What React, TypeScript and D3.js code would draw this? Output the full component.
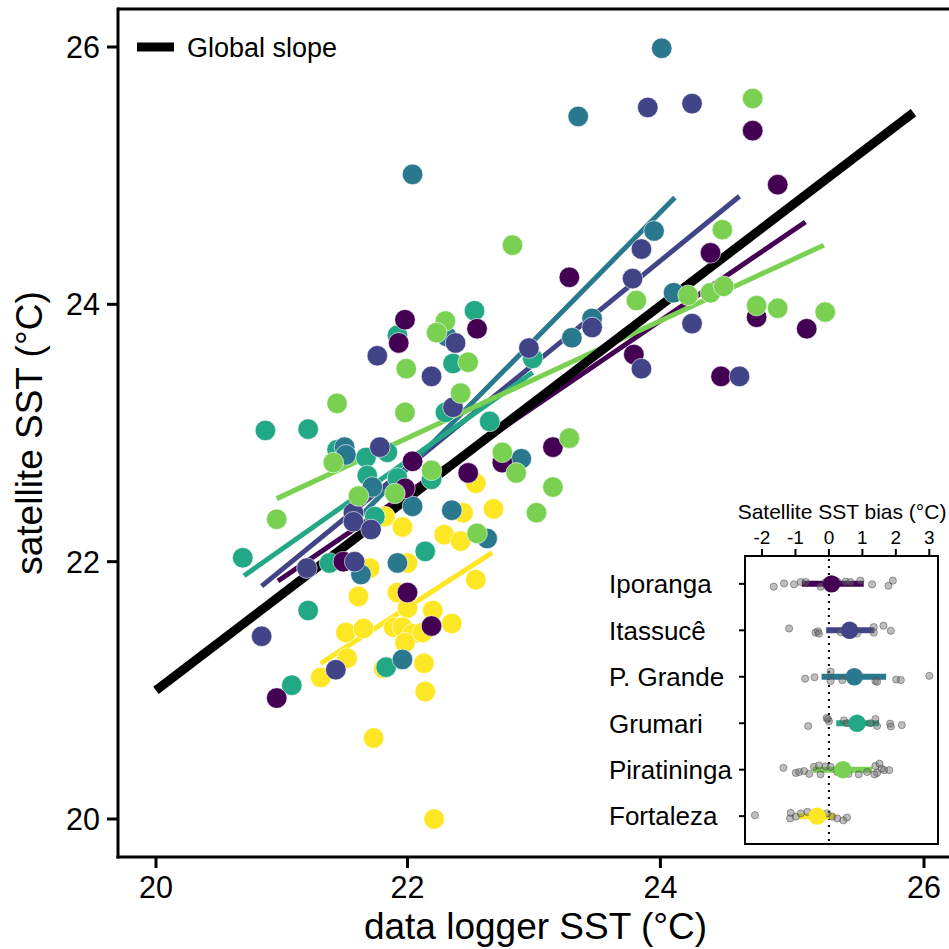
import React from 'react';
import * as d3 from 'd3';

const sites = ['Iporanga', 'Itassucê', 'P. Grande', 'Grumari', 'Piratininga', 'Fortaleza'];
const siteColors = ['#440154', '#414487', '#2A788E', '#22A884', '#7AD151', '#FDE725'];
const drawOrder = [5, 3, 2, 0, 1, 4];

const iporangaLogger = [24.70, 24.89, 23.28, 24.38, 24.73, 25.11, 23.79, 24.46, 22.55, 23.15, 22.75, 21.98, 21.93, 22.04, 21.98, 22.48, 21.49, 22.00, 22.19, 20.96];
const iporangaSatellite = [25.35, 24.93, 24.21, 24.40, 23.90, 23.81, 23.61, 23.44, 23.81, 22.89, 22.77, 23.88, 23.70, 22.78, 22.57, 22.69, 22.00, 21.76, 21.50, 20.94];
const itassuceLogger = [23.90, 24.24, 23.85, 23.78, 24.24, 23.46, 22.96, 23.85, 24.60, 22.38, 21.76, 22.19, 22.36, 21.78, 21.57, 21.57, 21.71, 21.20, 21.58, 20.84, 21.43];
const itassuceSatellite = [25.53, 25.56, 24.43, 24.20, 23.85, 23.82, 23.66, 23.50, 23.44, 23.70, 23.60, 23.44, 23.20, 22.89, 22.38, 22.31, 22.25, 21.95, 22.00, 21.42, 21.16];
const pGrandeLogger = [24.01, 23.35, 22.04, 23.95, 24.10, 23.46, 23.30, 22.90, 22.31, 21.50, 21.51, 21.72, 22.04, 22.35, 22.63, 21.63, 21.92, 21.96];
const pGrandeSatellite = [25.99, 25.46, 25.01, 24.57, 24.09, 23.89, 23.74, 22.80, 23.75, 22.89, 22.83, 22.58, 22.43, 22.40, 22.18, 21.90, 21.99, 21.24];
const grumariLogger = [22.53, 22.99, 22.65, 21.92, 22.36, 22.30, 20.87, 21.21, 21.44, 21.84, 21.67, 21.68, 21.92, 22.19, 21.74, 21.38, 20.69, 22.14, 21.21, 21.08, 21.83];
const grumariSatellite = [23.95, 23.58, 23.09, 23.76, 23.54, 23.16, 23.02, 23.03, 22.87, 22.85, 22.81, 22.67, 22.65, 22.64, 22.35, 21.99, 22.03, 22.08, 21.62, 21.04, 21.18];
const piratiningaLogger = [24.70, 22.83, 24.47, 23.81, 24.21, 24.38, 24.48, 24.73, 24.89, 25.25, 22.48, 23.28, 22.75, 22.86, 23.15, 22.30, 22.23, 21.99, 22.42, 21.44, 21.98, 21.41, 22.19, 21.61, 21.90, 20.96, 22.55, 23.02];
const piratiningaSatellite = [25.60, 24.46, 24.58, 24.03, 24.07, 24.09, 24.14, 23.99, 23.97, 23.94, 23.55, 22.96, 22.85, 22.69, 22.58, 23.87, 23.78, 23.50, 23.31, 23.23, 23.16, 22.77, 22.71, 22.51, 22.53, 22.33, 22.22, 22.38];
const fortalezaLogger = [22.54, 21.82, 21.96, 22.44, 22.68, 22.29, 22.42, 21.70, 22.00, 22.54, 21.61, 21.92, 22.00, 22.20, 21.51, 21.65, 21.89, 21.96, 22.04, 22.12, 22.35, 21.52, 21.31, 21.81, 22.13, 22.14, 21.73, 22.21, 21.98];
const fortalezaSatellite = [22.61, 22.35, 22.27, 22.38, 22.41, 22.21, 22.16, 21.95, 21.99, 21.86, 21.73, 21.76, 21.64, 21.62, 21.45, 21.48, 21.49, 21.49, 21.44, 21.45, 21.52, 21.25, 21.10, 21.17, 21.21, 20.99, 20.63, 20.00, 21.37];

const loggerBySite = [iporangaLogger, itassuceLogger, pGrandeLogger, grumariLogger, piratiningaLogger, fortalezaLogger];
const satelliteBySite = [iporangaSatellite, itassuceSatellite, pGrandeSatellite, grumariSatellite, piratiningaSatellite, fortalezaSatellite];

const fitStartX = [20.97, 20.84, 21.52, 20.70, 20.96, 21.31];
const fitEndX = [25.10, 24.60, 24.11, 22.99, 25.24, 22.67];
const fitStartY = [21.85, 21.81, 22.25, 21.89, 22.49, 21.21];
const fitEndY = [24.64, 24.84, 24.83, 23.47, 24.46, 22.07];

const globalX = [20.0, 25.92];
const globalY = [21.0, 25.49];

const xTicks = [20, 22, 24, 26];
const yTicks = [20, 22, 24, 26];

const biasMean = [0.08, 0.62, 0.76, 0.84, 0.42, -0.35];
const biasLow = [-0.81, -0.08, -0.22, 0.22, -0.48, -0.89];
const biasHigh = [1.04, 1.36, 1.71, 1.50, 1.29, 0.18];
const biasTicks = [-2, -1, 0, 1, 2, 3];

const iporangaBias = [-1.65, -1.34, -1.04, -0.84, -0.69, -0.25, -0.1, 0.25, 0.5, 0.64, 0.94, 1.29, 1.78, 1.91];
const iporangaJitter = [0.06, -0.01, 0.01, -0.04, -0.04, 0.06, -0.04, -0.05, -0.05, -0.04, -0.07, 0.01, 0.04, -0.07];
const itassuceBias = [-1.19, -0.4, -0.33, -0.30, 0.35, 0.5, 0.84, 1.34, 1.34, 1.63, 1.85];
const itassuceJitter = [-0.04, 0.05, 0.02, 0.07, 0.04, 0.06, 0.07, -0.07, 0.05, -0.1, 0.01];
const pGrandeBias = [-0.71, -0.43, 0.05, 0.05, 0.4, 0.74, 1.39, 1.44, 2.01, 2.15, 3.0];
const pGrandeJitter = [0.04, 0.01, -0.11, 0.09, 0.07, -0.04, 0.09, 0.11, 0.06, 0.07, -0.02];
const grumariBias = [-0.62, -0.07, -0.03, 0, 0.45, 0.54, 1.24, 1.39, 1.44, 1.83, 1.85, 2.18];
const grumariJitter = [0.06, -0.11, -0.09, -0.04, -0.06, 0, 0, -0.09, 0.06, 0.01, 0.07, 0.04];
const piratiningaBias = [-1.36, -0.99, -0.89, -0.74, -0.59, -0.45, -0.3, -0.25, -0.1, 0.05, 0.25, 0.59, 0.89, 1.14, 1.39, 1.44, 1.51, 1.58, 1.65, 1.8, 1.36];
const piratiningaJitter = [-0.04, 0.07, 0.05, 0.03, 0.09, -0.06, -0.09, 0.1, -0.07, -0.06, 0.05, 0.09, 0.1, 0.05, -0.08, 0.07, -0.13, -0.02, 0.01, 0.01, 0.1];
const fortalezaBias = [-2.21, -1.14, -1.16, -0.99, -0.84, -0.64, -0.25, -0.05, 0.1, 0.25, 0.43, 0.54];
const fortalezaJitter = [-0.02, -0.07, 0.05, 0.01, -0.06, -0.09, 0.01, -0.06, 0.01, 0.05, 0.09, 0.03];

const biasBySite = [iporangaBias, itassuceBias, pGrandeBias, grumariBias, piratiningaBias, fortalezaBias];
const jitterBySite = [iporangaJitter, itassuceJitter, pGrandeJitter, grumariJitter, piratiningaJitter, fortalezaJitter];

const FONT = '"Liberation Sans", Arial, Helvetica, sans-serif';

export default function App() {
  const W = 949, H = 949;
  const left = 118, top = 9, bottom = 857;
  const x = d3.scaleLinear().domain([20, 22, 24, 26]).range([156, 407.5, 660.4, 924]);
  const y = d3.scaleLinear().domain([20, 26]).range([819, 47]);
  const line = d3.line<[number, number]>().x(d => x(d[0])).y(d => y(d[1]));

  // inset
  const ib = { l: 745, r: 938, t: 556, b: 844 };
  const bx = d3.scaleLinear().domain([-2, 3]).range([762, 929.3]);
  const by = d3.scalePoint<string>().domain(sites).range([ib.t, ib.b]).padding(0.6);
  const step = by.step();

  return (
    <svg width={W} height={H} style={{ position: 'absolute', left: 0, top: 0, background: '#fff' }} fontFamily={FONT}>
      <rect x={0} y={0} width={W} height={H} fill="#fff" />
      {/* group fits */}
      {sites.map((s, i) => (
        <path key={'fit' + s}
          d={line([[fitStartX[i], fitStartY[i]], [fitEndX[i], fitEndY[i]]]) || ''}
          stroke={siteColors[i]} strokeWidth={5} fill="none" />
      ))}
      {/* global slope */}
      <path d={line([[globalX[0], globalY[0]], [globalX[1], globalY[1]]]) || ''} stroke="#000" strokeWidth={9} fill="none" />
      {/* points */}
      {drawOrder.map(i => (
        <g key={'pts' + i}>
          {loggerBySite[i].map((lx, j) => (
            <circle key={j} cx={x(lx)} cy={y(satelliteBySite[i][j])} r={10.3}
              fill={siteColors[i]} stroke="#fff" strokeWidth={0.6} />
          ))}
        </g>
      ))}
      {/* axes */}
      <line x1={left} x2={W + 5} y1={top} y2={top} stroke="#000" strokeWidth={3} />
      <line x1={left} x2={left} y1={top - 1.5} y2={bottom + 1.5} stroke="#000" strokeWidth={3} />
      <line x1={left - 1.5} x2={W + 5} y1={bottom} y2={bottom} stroke="#000" strokeWidth={3} />
      {yTicks.map(t => (
        <g key={'yt' + t}>
          <line x1={left - 11} x2={left} y1={y(t)} y2={y(t)} stroke="#000" strokeWidth={3} />
          <text x={100} y={y(t)} dy="0.36em" textAnchor="end" fontSize={30.5} fill="#000">{t}</text>
        </g>
      ))}
      {xTicks.map(t => (
        <g key={'xt' + t}>
          <line x1={x(t)} x2={x(t)} y1={bottom} y2={bottom + 11} stroke="#000" strokeWidth={3} />
          <text x={x(t)} y={898} textAnchor="middle" fontSize={30.5} fill="#000">{t}</text>
        </g>
      ))}
      <text x={535.5} y={939} textAnchor="middle" fontSize={37} fill="#000">data logger SST (°C)</text>
      <text transform={`translate(42, 433) rotate(-90)`} textAnchor="middle" fontSize={37} fill="#000">satellite SST (°C)</text>
      {/* legend */}
      <line x1={137} x2={174} y1={47} y2={47} stroke="#000" strokeWidth={9} />
      <text x={187} y={56.5} fontSize={27} fill="#000">Global slope</text>

      {/* inset */}
      <rect x={ib.l} y={ib.t} width={ib.r - ib.l} height={ib.b - ib.t} fill="#fff" stroke="#000" strokeWidth={2} />
      <line x1={bx(0)} x2={bx(0)} y1={ib.t + 3} y2={ib.b} stroke="#000" strokeWidth={2} strokeDasharray="2,5" />
      {biasTicks.map(t => (
        <g key={'bt' + t}>
          <line x1={bx(t)} x2={bx(t)} y1={ib.t - 7} y2={ib.t} stroke="#000" strokeWidth={2} />
          <text x={bx(t)} y={544} textAnchor="middle" fontSize={19} fill="#000">{t}</text>
        </g>
      ))}
      <text x={842} y={519} textAnchor="middle" fontSize={21} fill="#000">Satellite SST bias (°C)</text>
      {sites.map((s, i) => {
        const cy = by(s) as number;
        return (
          <g key={'in' + s}>
            <line x1={ib.l - 6} x2={ib.l} y1={cy} y2={cy} stroke="#000" strokeWidth={2} />
            <text x={609} y={cy} dy="0.36em" fontSize={26} fill="#000">{s}</text>
            <line x1={bx(biasLow[i])} x2={bx(biasHigh[i])} y1={cy} y2={cy} stroke={siteColors[i]} strokeWidth={6} />
            {biasBySite[i].map((v, j) => (
              <circle key={j} cx={bx(v)} cy={cy + jitterBySite[i][j] * step} r={3.6}
                fill="rgba(110,110,110,0.45)" stroke="rgba(60,60,60,0.45)" strokeWidth={1} />
            ))}
            <circle cx={bx(biasMean[i])} cy={cy} r={8.7} fill={siteColors[i]} />
          </g>
        );
      })}
    </svg>
  );
}
